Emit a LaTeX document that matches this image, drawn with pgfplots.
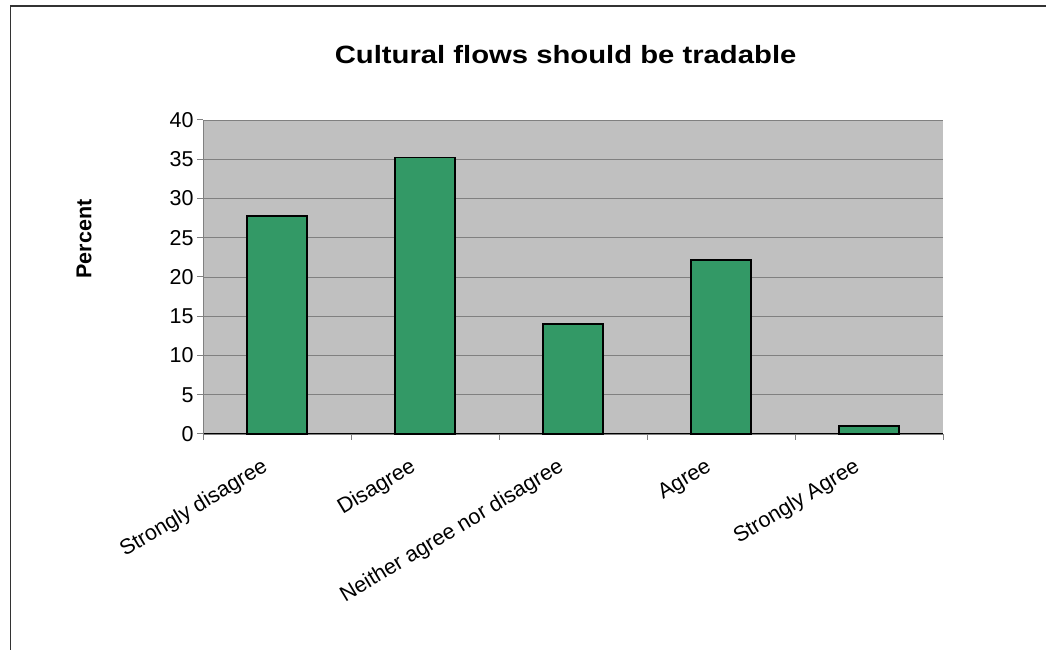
\documentclass[border=0pt]{standalone}
\usepackage{pgfplots}
\pgfplotsset{compat=1.18}
\usepackage{fontspec}
\setmainfont{Liberation Sans}
\definecolor{barg}{HTML}{339966}
\definecolor{plotbg}{HTML}{C0C0C0}
\definecolor{gridc}{HTML}{808080}
\begin{document}
\begin{tikzpicture}[x=1pt,y=1pt]
\path[use as bounding box] (0,0) rectangle (1046,650);
\draw[line width=1.2pt,black!80] (10.5,0) -- (10.5,644) -- (1046,644);
\begin{axis}[
  at={(203pt,216pt)}, anchor=south west,
  scale only axis, width=740pt, height=314pt,
  xmin=-0.5, xmax=4.5, ymin=0, ymax=40,
  ytick={0,5,...,40},
  xtick={-0.5,0.5,1.5,2.5,3.5,4.5},
  xticklabels={},
  extra x ticks={0,1,2,3,4},
  extra x tick labels={Strongly disagree,Disagree,Neither agree nor disagree,Agree,Strongly Agree},
  extra x tick style={major tick length=0pt, grid=none,
    tick label style={rotate=31, anchor=north east, font=\fontsize{21.5}{24}\selectfont, yshift=-8pt, xshift=-22.5pt}},
  axis background/.style={fill=plotbg},
  ymajorgrids, major grid style={gridc, line width=0.8pt},
  axis x line*=bottom, axis y line*=left,
  x axis line style={black, line width=1pt, -},
  y axis line style={gridc, line width=1pt, -},
  tick style={gridc, line width=1pt},
  major tick length=6pt,
  xtick align=outside, ytick align=outside,
  ticklabel style={font=\fontsize{21.5}{24}\selectfont},
  /pgf/number format/assume math mode=true,
  ybar, bar width=60pt,
  title={\scalebox{1.17}[1]{\bfseries Cultural flows should be tradable}},
  title style={font=\fontsize{25}{28}\selectfont, at={(0.49,1)}, anchor=base, yshift=50pt},
  ylabel={\bfseries Percent},
  ylabel style={font=\fontsize{21.5}{24}\selectfont, at={(rel axis cs:-0.1608,0.621)}, anchor=center},
  clip=false,
]
\addplot[fill=barg, draw=black, line width=1.6pt] coordinates {(0,27.8) (1,35.2) (2,14.0) (3,22.2) (4,1.0)};
\end{axis}
\end{tikzpicture}
\end{document}
